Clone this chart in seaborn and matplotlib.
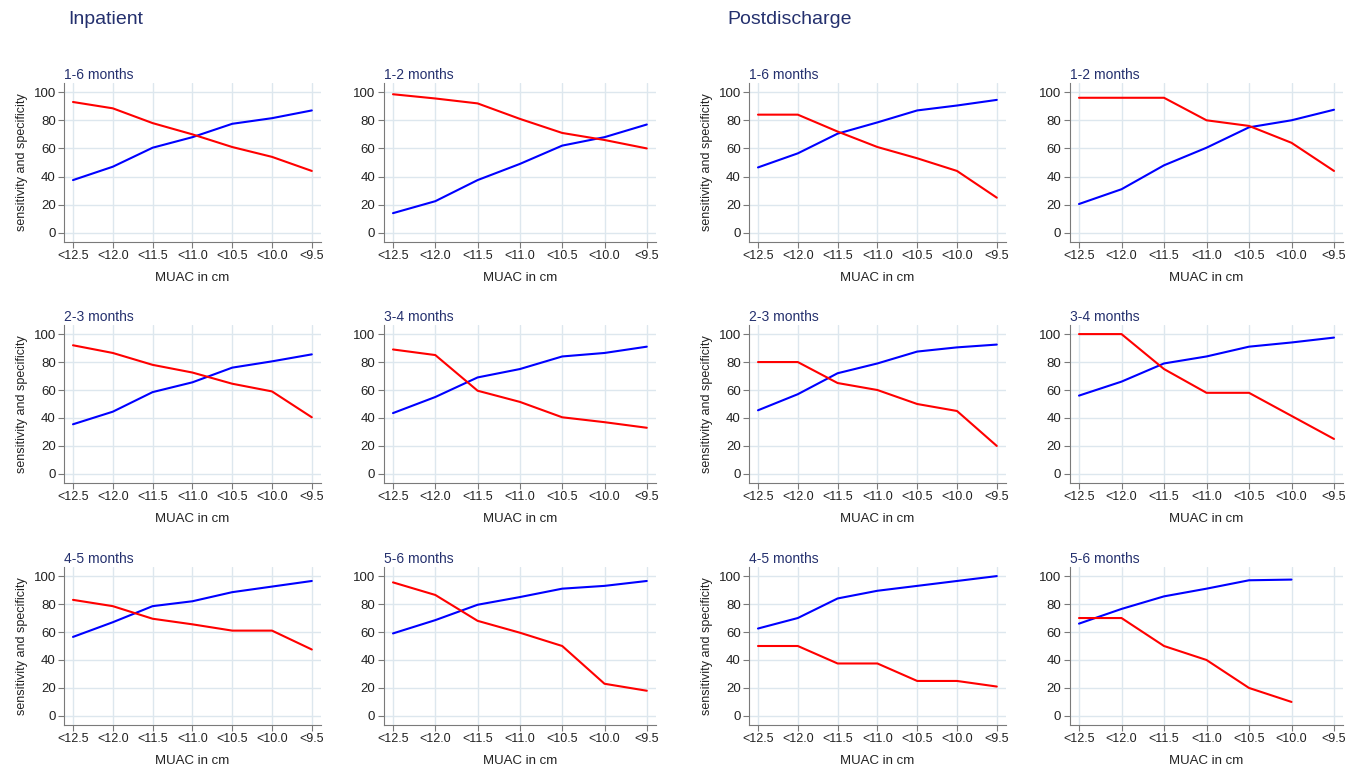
# Sensitivity / specificity of MUAC cut-offs by age group, inpatient vs postdischarge
import numpy as np
import pandas as pd
import matplotlib
matplotlib.use("Agg")
import matplotlib.pyplot as plt
import seaborn as sns

# x categories (MUAC cut-offs)
cutoffs = ["<12.5", "<12.0", "<11.5", "<11.0", "<10.5", "<10.0", "<9.5"]

# Inpatient (red = sensitivity, blue = specificity)
inp_1_6_sens = [93, 88.5, 78, 70, 61, 54, 44]
inp_1_6_spec = [37.5, 47, 60.5, 68, 77.5, 81.5, 87]
inp_1_2_sens = [98.5, 95.5, 92, 81, 71, 66, 60]
inp_1_2_spec = [14, 22.5, 37.5, 49, 62, 68, 77]
inp_2_3_sens = [92, 86.5, 78, 72.5, 64.5, 59, 40.5]
inp_2_3_spec = [35.5, 44.5, 58.5, 65.5, 76, 80.5, 85.5]
inp_3_4_sens = [89, 85, 59.5, 51.5, 40.5, 37, 33]
inp_3_4_spec = [43.5, 55, 69, 75, 84, 86.5, 91]
inp_4_5_sens = [83, 78.5, 69.5, 65.5, 61, 61, 47.5]
inp_4_5_spec = [56.5, 67, 78.5, 82, 88.5, 92.5, 96.5]
inp_5_6_sens = [95.5, 86.5, 68, 59.5, 50, 23, 18]
inp_5_6_spec = [59, 68.5, 79.5, 85, 91, 93, 96.5]

# Postdischarge
post_1_6_sens = [84, 84, 72, 61, 53, 44, 25]
post_1_6_spec = [46.5, 56.5, 70.5, 78.5, 87, 90.5, 94.5]
post_1_2_sens = [96, 96, 96, 80, 76, 64, 44]
post_1_2_spec = [20.5, 31, 48, 60.5, 75, 80, 87.5]
post_2_3_sens = [80, 80, 65, 60, 50, 45, 20]
post_2_3_spec = [45.5, 57, 72, 79, 87.5, 90.5, 92.5]
post_3_4_sens = [100, 100, 75, 58, 58, 41.5, 25]
post_3_4_spec = [56, 66, 79, 84, 91, 94, 97.5]
post_4_5_sens = [50, 50, 37.5, 37.5, 25, 25, 21]
post_4_5_spec = [62.5, 70, 84, 89.5, 93, 96.5, 100]
post_5_6_sens = [70, 70, 50, 40, 20, 10, np.nan]
post_5_6_spec = [66, 76.5, 85.5, 91, 97, 97.5, np.nan]

panels = [
    # (row, col, title, sens, spec)
    (0, 0, "1-6 months", inp_1_6_sens, inp_1_6_spec),
    (0, 1, "1-2 months", inp_1_2_sens, inp_1_2_spec),
    (1, 0, "2-3 months", inp_2_3_sens, inp_2_3_spec),
    (1, 1, "3-4 months", inp_3_4_sens, inp_3_4_spec),
    (2, 0, "4-5 months", inp_4_5_sens, inp_4_5_spec),
    (2, 1, "5-6 months", inp_5_6_sens, inp_5_6_spec),
    (0, 2, "1-6 months", post_1_6_sens, post_1_6_spec),
    (0, 3, "1-2 months", post_1_2_sens, post_1_2_spec),
    (1, 2, "2-3 months", post_2_3_sens, post_2_3_spec),
    (1, 3, "3-4 months", post_3_4_sens, post_3_4_spec),
    (2, 2, "4-5 months", post_4_5_sens, post_4_5_spec),
    (2, 3, "5-6 months", post_5_6_sens, post_5_6_spec),
]

sns.set_theme(style="white")
plt.rcParams['font.family'] = ['Liberation Sans', 'DejaVu Sans']

W, H = 1350, 769
fig = plt.figure(figsize=(W / 100, H / 100), dpi=100)

# pixel layout
col_tick0 = [73, 393, 758, 1079]
col_step = [39.8, 42.3, 39.8, 42.5]
row_top = [83, 325, 567]
row_bot = [242, 483, 725]
navy = "#24306e"
grid_col = "#dde7ee"

for row, col, title, sens, spec in panels:
    left = col_tick0[col] - 0.22 * col_step[col]
    width = 6.44 * col_step[col]
    ax = fig.add_axes([left / W, 1 - row_bot[row] / H, width / W, (row_bot[row] - row_top[row]) / H])

    df = pd.DataFrame({"pos": range(len(cutoffs)), "sens": sens, "spec": spec})
    sns.lineplot(data=df, x="pos", y="spec", color="blue", lw=1.5, ax=ax)
    sns.lineplot(data=df, x="pos", y="sens", color="red", lw=1.5, ax=ax)

    ax.set_xlim(-0.22, 6.22)
    ax.set_ylim(-6.5, 106.5)
    ax.set_xticks(range(len(cutoffs)))
    ax.set_xticklabels(cutoffs)
    ax.set_yticks([0, 20, 40, 60, 80, 100])
    ax.grid(True, color=grid_col, lw=1.0)
    ax.set_axisbelow(True)
    for s in ["top", "right"]:
        ax.spines[s].set_visible(False)
    for s in ["left", "bottom"]:
        ax.spines[s].set_color("#7a7a7a")
        ax.spines[s].set_linewidth(0.8)
    ax.tick_params(axis="both", direction="out", length=4, width=0.8, color="#7a7a7a",
                   labelsize=9.5, labelcolor="#222222", pad=2, bottom=True, left=True)
    ax.tick_params(axis="x", labelsize=9)
    ax.set_xlabel("MUAC in cm", fontsize=9.5, color="#222222", labelpad=7)
    if col in (0, 2):
        ax.set_ylabel("sensitivity and specificity", fontsize=9, color="#222222", labelpad=4)
    else:
        ax.set_ylabel("")
    ax.set_title(title, fontsize=10, color=navy, loc="left", pad=3, x=0.0)

fig.text(68 / W, 1 - 20 / H, "Inpatient", fontsize=14, color=navy, va="center", ha="left")
fig.text(727 / W, 1 - 20 / H, "Postdischarge", fontsize=14, color=navy, va="center", ha="left")

fig.savefig("out.png", dpi=100, facecolor="white")
